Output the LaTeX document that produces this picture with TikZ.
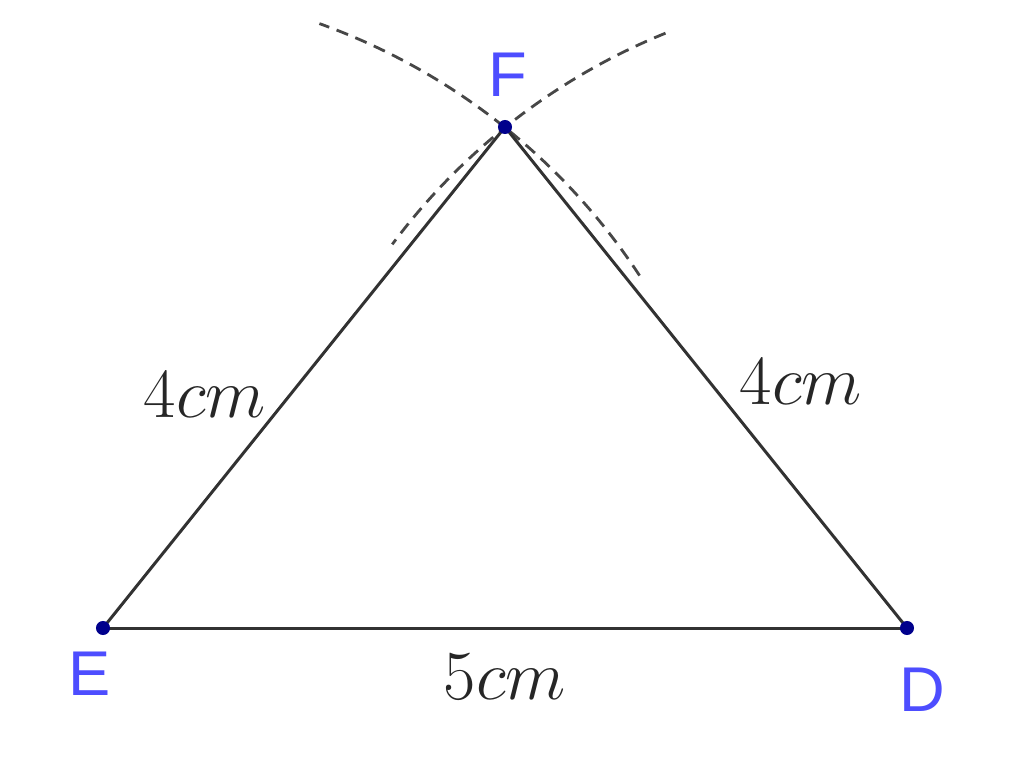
\RequirePackage{fix-cm}
\documentclass[tikz,border=0pt]{standalone}
\usepackage{fontspec}
\newfontfamily\lblfont{Liberation Sans}
\definecolor{ptblue}{RGB}{0,0,140}
\definecolor{lblblue}{RGB}{77,77,255}
\definecolor{edgegray}{RGB}{50,50,50}
\begin{document}
\begin{tikzpicture}[x=0.02cm,y=0.02cm,
  edge/.style={draw=edgegray,line width=1.7pt},
  arcline/.style={draw=edgegray!90,line width=1.6pt,dash pattern=on 7pt off 4.5pt},
  pt/.style={circle,fill=ptblue,inner sep=0pt,minimum size=8pt},
  ptlbl/.style={text=lblblue,font=\lblfont\fontsize{36}{42}\selectfont,inner sep=0pt},
  lenlbl/.style={text=black!85,font=\fontsize{40}{46}\selectfont,inner sep=0pt}]
\useasboundingbox (0,0) rectangle (1024,779);
\coordinate (E) at (103,151);
\coordinate (D) at (907,151);
\coordinate (F) at (505,652);
% construction arcs
\draw[arcline] ([shift={(33.3:642)}]E) arc[start angle=33.3,end angle=70.3,radius=642];
\draw[arcline] ([shift={(112.1:642)}]D) arc[start angle=112.1,end angle=143.3,radius=642];
% triangle
\draw[edge] (E) -- (D);
\draw[edge] (E) -- (F);
\draw[edge] (D) -- (F);
% points
\node[pt] (Ep) at (E) {};
\node[pt] (Dp) at (D) {};
\node[pt] (Fp) at (F) {};
% point labels
\node[ptlbl] (Elbl) at (90,105) {E};
\node[ptlbl] (Dlbl) at (922,89) {D};
\node[ptlbl] (Flbl) at (508,704) {F};
% length labels
\node[lenlbl] (lEF) at (205,384) {$4cm$};
\node[lenlbl] (lDF) at (801,397) {$4cm$};
\node[lenlbl] (lED) at (505,102) {$5cm$};
\end{tikzpicture}
\end{document}
